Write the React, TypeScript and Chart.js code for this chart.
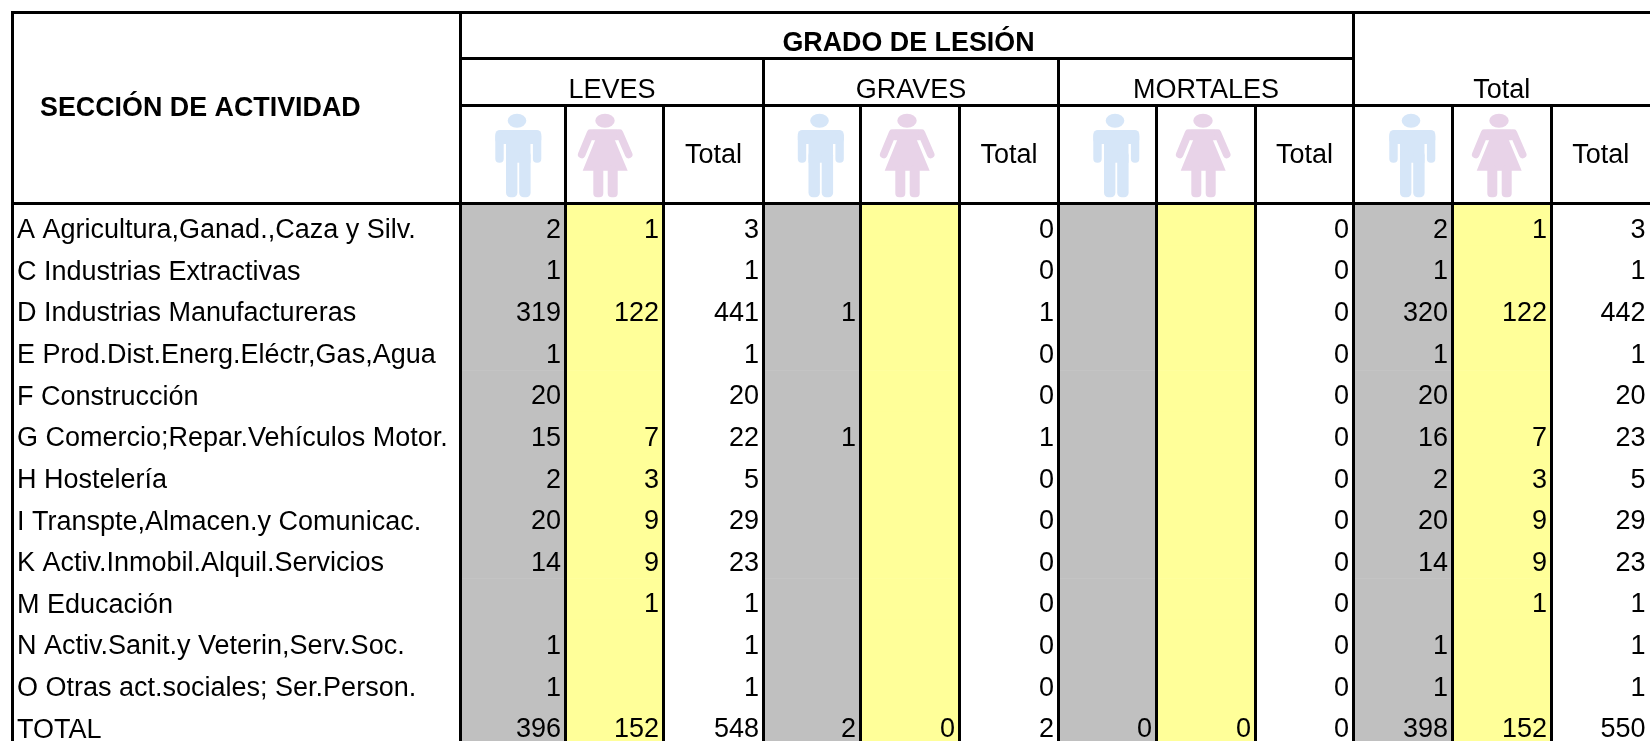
import React, { useEffect, useRef } from "react";
import { Chart, registerables } from "chart.js";

Chart.register(...registerables);

const sections = [
  "A Agricultura,Ganad.,Caza y Silv.",
  "C Industrias Extractivas",
  "D Industrias Manufactureras",
  "E Prod.Dist.Energ.Eléctr,Gas,Agua",
  "F Construcción",
  "G Comercio;Repar.Vehículos Motor.",
  "H Hostelería",
  "I Transpte,Almacen.y Comunicac.",
  "K Activ.Inmobil.Alquil.Servicios",
  "M Educación",
  "N Activ.Sanit.y Veterin,Serv.Soc.",
  "O Otras act.sociales; Ser.Person.",
  "TOTAL",
];

const _ = null;
const levesHombres = [2, 1, 319, 1, 20, 15, 2, 20, 14, _, 1, 1, 396];
const levesMujeres = [1, _, 122, _, _, 7, 3, 9, 9, 1, _, _, 152];
const levesTotal = [3, 1, 441, 1, 20, 22, 5, 29, 23, 1, 1, 1, 548];
const gravesHombres = [_, _, 1, _, _, 1, _, _, _, _, _, _, 2];
const gravesMujeres = [_, _, _, _, _, _, _, _, _, _, _, _, 0];
const gravesTotal = [0, 0, 1, 0, 0, 1, 0, 0, 0, 0, 0, 0, 2];
const mortalesHombres = [_, _, _, _, _, _, _, _, _, _, _, _, 0];
const mortalesMujeres = [_, _, _, _, _, _, _, _, _, _, _, _, 0];
const mortalesTotal = [0, 0, 0, 0, 0, 0, 0, 0, 0, 0, 0, 0, 0];
const totalHombres = [2, 1, 320, 1, 20, 16, 2, 20, 14, _, 1, 1, 398];
const totalMujeres = [1, _, 122, _, _, 7, 3, 9, 9, 1, _, _, 152];
const totalTotal = [3, 1, 442, 1, 20, 23, 5, 29, 23, 1, 1, 1, 550];

const columns = [
  levesHombres, levesMujeres, levesTotal,
  gravesHombres, gravesMujeres, gravesTotal,
  mortalesHombres, mortalesMujeres, mortalesTotal,
  totalHombres, totalMujeres, totalTotal,
];

const groupLabels = ["LEVES", "GRAVES", "MORTALES", "Total"];
const mainHeader = "GRADO DE LESIÓN";
const sideHeader = "SECCIÓN DE ACTIVIDAD";
const subTotalLabel = "Total";

// layout (not data)
const columnEdges = [460.5, 565.5, 663.5, 763.5, 860.5, 959.5, 1058.5, 1156.5, 1255.5, 1353.5, 1452.5, 1551.5, 1650];
const manCenters = [517, 819.5, 1115, 1411];
const womanCenters = [605, 907, 1203, 1499];
const FONT = '"Liberation Sans", Arial, sans-serif';
const FS = 27;
const FS_BOLD = 26.85;
const BLACK = "#000000";
const GREY = "#c0c0c0";
const YELLOW = "#ffff99";
const MAN = "#d6e6f8";
const WOMAN = "#e8d3e8";

function drawMan(ctx: CanvasRenderingContext2D, cx: number, cy: number) {
  ctx.save();
  ctx.translate(cx, cy);
  ctx.fillStyle = MAN;
  ctx.beginPath();
  ctx.ellipse(0, 0, 9.3, 7, 0, 0, Math.PI * 2);
  ctx.fill();
  const rr = (x: number, y: number, w: number, h: number, r: number) => {
    ctx.beginPath();
    ctx.roundRect(x, y, w, h, r);
    ctx.fill();
  };
  rr(-21.7, 9.3, 46, 14, 4.5);
  rr(-21.7, 12, 8.4, 30, 4);
  rr(15.9, 12, 8.4, 30, 4);
  rr(-11, 12, 24.5, 30, 0);
  rr(-11, 30, 11.4, 46.5, 4.5);
  rr(2.2, 30, 11.4, 46.5, 4.5);
  ctx.restore();
}

function drawWoman(ctx: CanvasRenderingContext2D, cx: number, cy: number) {
  ctx.save();
  ctx.translate(cx, cy);
  ctx.fillStyle = WOMAN;
  ctx.strokeStyle = WOMAN;
  ctx.beginPath();
  ctx.ellipse(0, 0, 9.7, 7, 0, 0, Math.PI * 2);
  ctx.fill();
  ctx.beginPath();
  ctx.roundRect(-16, 8.5, 32, 11, 4);
  ctx.fill();
  ctx.beginPath();
  ctx.moveTo(-9.7, 19);
  ctx.lineTo(9.7, 19);
  ctx.lineTo(22.7, 50);
  ctx.lineTo(-22.3, 50);
  ctx.closePath();
  ctx.fill();
  ctx.lineWidth = 7.6;
  ctx.lineCap = "round";
  for (const [x1, x2] of [[-14.5, -23.3], [14.5, 23.7]]) {
    ctx.beginPath();
    ctx.moveTo(x1, 12.5);
    ctx.lineTo(x2, 33.8);
    ctx.stroke();
  }
  ctx.beginPath();
  ctx.roundRect(-11.7, 45, 10, 31.5, 4);
  ctx.roundRect(2.7, 45, 10, 31.5, 4);
  ctx.fill();
  ctx.restore();
}

const tablePlugin = {
  id: "tablePlugin",
  afterDraw(chart: any) {
    const { ctx, scales, chartArea } = chart;
    const x = scales.x;
    const y = scales.y;
    const px = (i: number) => Math.round(x.getPixelForValue(columnEdges[i]) * 2) / 2;
    const bottom = chartArea.bottom;
    const hLine = (x1: number, x2: number, yy: number) => ctx.fillRect(x1, yy - 1.5, x2 - x1, 3);
    const vLine = (xx: number, y1: number, y2: number) => ctx.fillRect(xx - 1.5, y1, 3, y2 - y1);

    ctx.save();
    // icons
    manCenters.forEach((c) => drawMan(ctx, c, 120.7));
    womanCenters.forEach((c) => drawWoman(ctx, c, 120.7));

    // rules
    ctx.fillStyle = BLACK;
    hLine(11, 1650, 12.5);
    hLine(459, 1355, 58.5);
    hLine(459, 1650, 105.5);
    hLine(11, 1650, 203.5);
    vLine(12.5, 11, bottom);
    vLine(px(0), 11, 205);
    vLine(px(9), 11, 205);
    [3, 6].forEach((i) => vLine(px(i), 58, 205));
    columnEdges.slice(0, -1).forEach((_e, i) => vLine(px(i), 104, 205));

    // headers
    ctx.fillStyle = BLACK;
    ctx.textBaseline = "alphabetic";
    ctx.textAlign = "center";
    ctx.font = `bold ${FS_BOLD}px ${FONT}`;
    ctx.fillText(mainHeader, 908.5, 51);
    ctx.textAlign = "left";
    ctx.fillText(sideHeader, 40, 116);
    ctx.textAlign = "center";
    ctx.font = `${FS}px ${FONT}`;
    groupLabels.forEach((l, g) => {
      ctx.fillText(l, (px(g * 3) + px(g * 3 + 3)) / 2, 97.5);
      ctx.fillText(subTotalLabel, (px(g * 3 + 2) + px(g * 3 + 3)) / 2, 163);
    });

    // cell values
    ctx.textAlign = "right";
    columns.forEach((col, c) => {
      col.forEach((v, r) => {
        if (v === null) return;
        ctx.fillText(String(v), px(c + 1) - 4.5, y.getPixelForValue(r) + 13);
      });
    });
    ctx.restore();
  },
};

export default function App() {
  const ref = useRef<HTMLCanvasElement>(null);
  useEffect(() => {
    document.body.style.margin = "0";
    document.body.style.overflow = "hidden";
    const fills = [0, 1, 3, 4, 6, 7, 9, 10].map((c) => ({
      label: `col${c}`,
      data: sections.map(() => [columnEdges[c], columnEdges[c + 1]]),
      backgroundColor: c % 3 === 0 ? GREY : YELLOW,
      borderWidth: 0,
      grouped: false,
      barPercentage: 1,
      categoryPercentage: 1,
    }));
    const chart = new Chart(ref.current!, {
      type: "bar",
      data: { labels: sections, datasets: fills as any },
      plugins: [tablePlugin],
      options: {
        indexAxis: "y",
        animation: false,
        responsive: false,
        events: [],
        layout: { padding: { top: 204, left: 17, right: 0, bottom: 0 } },
        plugins: { legend: { display: false }, tooltip: { enabled: false }, title: { display: false } },
        scales: {
          x: {
            type: "linear",
            position: "top",
            min: columnEdges[0],
            max: columnEdges[columnEdges.length - 1],
            ticks: { display: false },
            border: { display: false },
            grid: { color: BLACK, lineWidth: 3, drawTicks: false, z: 1 },
            afterBuildTicks: (s: any) => {
              s.ticks = columnEdges.slice(0, -1).map((value) => ({ value }));
            },
          },
          y: {
            type: "category",
            afterFit: (s: any) => {
              s.width = columnEdges[0] - 17;
              s.paddingTop = 0;
              s.paddingBottom = 0;
            },
            grid: { display: false },
            border: { display: false },
            ticks: {
              crossAlign: "far",
              autoSkip: false,
              labelOffset: 6,
              color: BLACK,
              font: { family: FONT, size: FS },
            },
          },
        },
      },
    } as any);
    return () => chart.destroy();
  }, []);
  return (
    <div style={{ width: 1650, height: 741, overflow: "hidden", background: "#fff" }}>
      <canvas ref={ref} width={1650} height={745} style={{ display: "block" }} />
    </div>
  );
}
